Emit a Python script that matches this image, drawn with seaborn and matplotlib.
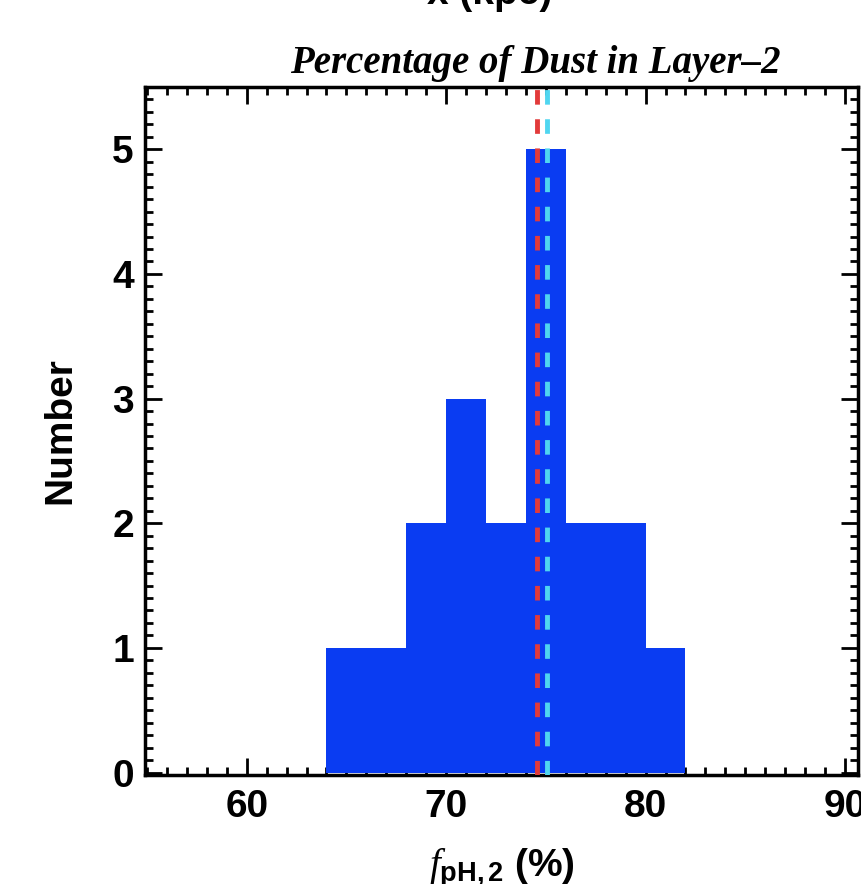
import numpy as np
import pandas as pd
import seaborn as sns
import matplotlib
matplotlib.use("Agg")
import matplotlib.pyplot as plt
from matplotlib.ticker import MultipleLocator

# Data
bin_edges = [64, 66, 68, 70, 72, 74, 76, 78, 80, 82]
counts = [1, 1, 2, 3, 2, 5, 2, 2, 1]
median_val = 74.55
mean_val = 75.05
title = "Percentage of Dust in Layer\u20132"
xlabel = r"$f_{\rm pH,2}$ (%)"
ylabel = "Number"
top_text = "x (kpc)"

centers = [(a + b) / 2 for a, b in zip(bin_edges[:-1], bin_edges[1:])]
df = pd.DataFrame({"f": centers, "n": counts})

sns.set_theme(style="ticks")
plt.rcParams['font.family'] = ['Liberation Sans', 'DejaVu Sans']
plt.rcParams['mathtext.fontset'] = 'custom'
plt.rcParams['mathtext.it'] = 'Liberation Serif:italic'
plt.rcParams['mathtext.rm'] = 'Liberation Sans:bold'
for k in ["text.color", "axes.labelcolor", "xtick.color", "ytick.color"]:
    plt.rcParams[k] = "black"

fig = plt.figure(figsize=(8.62, 8.84), dpi=100)
ax = fig.add_axes([145 / 862, 1 - 775 / 884, (858 - 145) / 862, (775 - 87) / 884])

sns.histplot(data=df, x="f", weights="n", bins=bin_edges, ax=ax,
             color="#0a3cf2", alpha=1, edgecolor="none", linewidth=0)

ax.axvline(median_val, color="#e23a3a", lw=3.5, ls=(0, (3, 3)), zorder=3)
ax.axvline(mean_val, color="#4fd6f0", lw=3.5, ls=(0, (3, 3)), zorder=3)

ax.set_xlim(54.9, 90.65)
ax.set_ylim(-0.02, 5.5)
ax.xaxis.set_major_locator(MultipleLocator(10))
ax.xaxis.set_minor_locator(MultipleLocator(1))
ax.yaxis.set_major_locator(MultipleLocator(1))
ax.yaxis.set_minor_locator(MultipleLocator(0.1))
ax.tick_params(which="both", direction="in", top=True, right=True, width=2, color="black")
ax.tick_params(which="major", length=12, labelsize=28)
ax.tick_params(axis="y", which="major", pad=8)
ax.tick_params(axis="x", which="major", pad=10)
ax.tick_params(which="minor", length=6)
for lab in ax.get_xticklabels() + ax.get_yticklabels():
    lab.set_fontweight("bold")
for s in ax.spines.values():
    s.set_visible(True)
    s.set_linewidth(2.5)
    s.set_color("black")

ax.set_xlabel(xlabel, fontsize=28, fontweight="bold")
ax.xaxis.set_label_coords(0.5, -0.105)
ax.set_ylabel(ylabel, fontsize=28, fontweight="bold")
ax.yaxis.set_label_coords(-0.094, 0.5)
ax.set_title(title, fontsize=28, fontweight="bold", fontstyle="italic",
             family="Liberation Serif", x=0.547, pad=10)
fig.text(490 / 862, 1 - 12 / 884, top_text, ha="center", va="bottom",
         fontsize=28, fontweight="bold")

fig.savefig("out.png", dpi=100)
